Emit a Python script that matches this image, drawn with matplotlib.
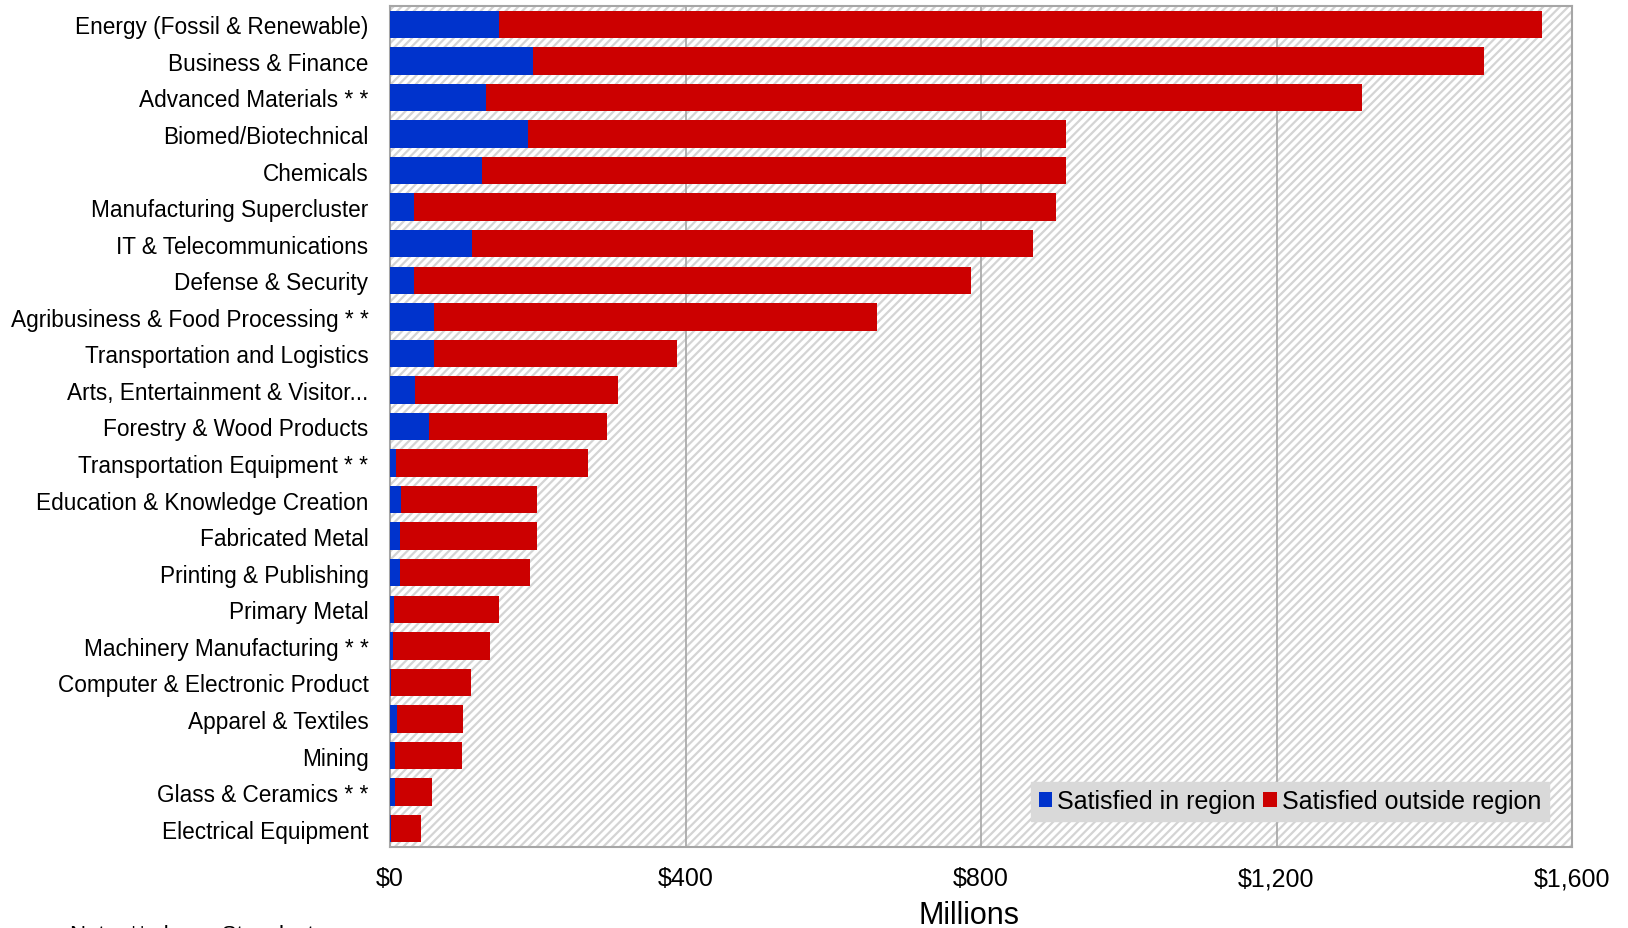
import numpy as np
import matplotlib
matplotlib.use("Agg")
import matplotlib.pyplot as plt
from matplotlib.ticker import FuncFormatter

plt.rcParams['font.family'] = ['Liberation Sans', 'DejaVu Sans']
plt.rcParams['hatch.color'] = '#d4d4d4'
plt.rcParams['hatch.linewidth'] = 1.6

categories = [
    "Energy (Fossil & Renewable)", "Business & Finance", "Advanced Materials * *",
    "Biomed/Biotechnical", "Chemicals", "Manufacturing Supercluster",
    "IT & Telecommunications", "Defense & Security", "Agribusiness & Food Processing * *",
    "Transportation and Logistics", "Arts, Entertainment & Visitor...",
    "Forestry & Wood Products", "Transportation Equipment * *",
    "Education & Knowledge Creation", "Fabricated Metal", "Printing & Publishing",
    "Primary Metal", "Machinery Manufacturing * *", "Computer & Electronic Product",
    "Apparel & Textiles", "Mining", "Glass & Ceramics * *", "Electrical Equipment",
]
in_region = [148, 194, 130, 187, 125, 33, 111, 32, 59, 59, 34, 53, 8,
             15, 13, 14, 6, 4, 1.5, 10, 7, 7, 1]
outside_region = [1412, 1287, 1186, 728, 790, 868, 759, 755, 600, 329, 274, 241, 260,
                  184, 186, 176, 142, 131, 108.5, 89, 90, 50, 40.5]
x_ticks = [0, 400, 800, 1200, 1600]

fig = plt.figure(figsize=(16.28, 9.29), dpi=100)
ax = fig.add_axes([390 / 1628, 81 / 929, 1182 / 1628, 841 / 929])

ax.patch.set_facecolor('white')
ax.patch.set_hatch('////')
ax.patch.set_edgecolor('#d4d4d4')

y = np.arange(len(categories))
ax.barh(y, in_region, height=0.75, color='#0033CC', label='Satisfied in region', zorder=3)
ax.barh(y, outside_region, left=in_region, height=0.75, color='#CC0000',
        label='Satisfied outside region', zorder=3)

ax.set_ylim(len(categories) - 0.5, -0.5)
ax.set_yticks(y)
ax.set_yticklabels(categories, fontsize=16.3)
ax.set_xlim(0, 1600)
ax.set_xticks(x_ticks)
ax.xaxis.set_major_formatter(FuncFormatter(lambda v, p: "${:,.0f}".format(v)))
ax.tick_params(axis='x', labelsize=18, length=0, pad=14)
ax.tick_params(axis='y', length=0, pad=15.5)
ax.grid(axis='x', color='#a6a6a6', linewidth=1.2, zorder=1)
ax.set_axisbelow(True)
for s in ax.spines.values():
    s.set_color('#a6a6a6')
    s.set_linewidth(1.5)

leg = ax.legend(loc='lower right', bbox_to_anchor=(0.9805, 0.031), ncol=2, fontsize=18,
                frameon=True, fancybox=False, framealpha=1, facecolor='#d9d9d9',
                edgecolor='#d9d9d9', handlelength=0.55, handleheight=0.55,
                handletextpad=0.2, columnspacing=0.3, borderpad=0.3, borderaxespad=0)

fig.text(969 / 1628, 5 / 929, "Millions", fontsize=22, ha='center', va='baseline')
fig.text(70 / 1628, 4 / 929, "Note: ** shows Stanclusters", fontsize=16, ha='left', va='top')

fig.savefig("out.png", dpi=100)
